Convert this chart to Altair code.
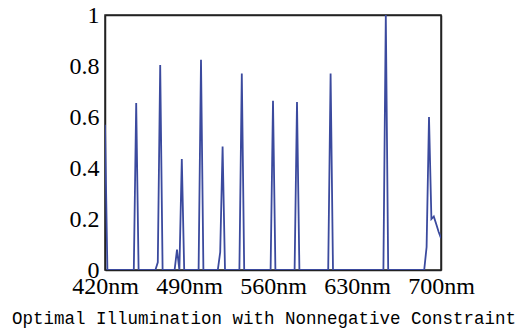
import altair as alt
import pandas as pd

# wavelength samples (nm) and relative illumination values
wavelengths = [420, 422, 444, 446, 448, 462, 464, 466, 468, 478, 480, 482, 484, 486,
               498, 500, 502, 514, 516, 518, 520, 532, 534, 536, 558, 560, 562,
               578, 580, 582, 606, 608, 610, 652, 654, 656, 686, 688, 690, 692,
               694, 696, 698, 700]
values = [0.57, 0.0, 0.0, 0.655, 0.0, 0.0, 0.03, 0.804, 0.0, 0.0, 0.08, 0.0, 0.435, 0.0,
          0.0, 0.824, 0.0, 0.0, 0.07, 0.484, 0.0, 0.0, 0.771, 0.0, 0.0, 0.664, 0.0,
          0.0, 0.659, 0.0, 0.0, 0.771, 0.0, 0.0, 1.0, 0.0, 0.0, 0.09, 0.60, 0.20,
          0.21, 0.18, 0.15, 0.125]

x_ticks = [420, 490, 560, 630, 700]
y_ticks = [0, 0.2, 0.4, 0.6, 0.8, 1.0]
title_text = "Optimal Illumination with Nonnegative Constraint"

df = pd.DataFrame({"wl": wavelengths, "v": values})

W, H = 336, 255
xs = alt.Scale(domain=[420, 700], nice=False, zero=False)
ys = alt.Scale(domain=[0, 1], nice=False)

common = dict(title=None, ticks=False, labelFlush=False, labelOverlap=False,
              domainWidth=1.5)

main = alt.Chart(df).mark_line(color="#3b4a9e", strokeWidth=1.8, clip=True).encode(
    x=alt.X("wl:Q", scale=xs,
            axis=alt.Axis(orient="bottom", values=x_ticks, labelExpr="datum.value + 'nm'",
                          labelFont="Liberation Serif", labelFontSize=24, labelColor="black",
                          labelPadding=4, domainColor="#222222", grid=False, **common)),
    y=alt.Y("v:Q", scale=ys,
            axis=alt.Axis(orient="left", values=y_ticks, format="~g",
                          labelFont="Liberation Serif", labelFontSize=24, labelColor="black",
                          labelPadding=6, domainColor="#222222", grid=False, **common)),
)

frame = alt.Chart(df).mark_line(opacity=0).encode(
    x=alt.X("wl:Q", scale=xs,
            axis=alt.Axis(orient="top", values=x_ticks, labels=False, grid=False,
                          domainColor="#222222", **common)),
    y=alt.Y("v:Q", scale=ys,
            axis=alt.Axis(orient="right", values=y_ticks, labels=False, grid=False,
                          domainColor="#222222", **common)),
)

chart = alt.layer(main, frame).resolve_axis(x="independent", y="independent").properties(
    width=W, height=H,
    title=alt.TitleParams(title_text, orient="bottom", font="Liberation Mono",
                          fontSize=17.5, fontWeight="normal", color="black",
                          anchor="middle", dx=-9, offset=12),
    autosize=alt.AutoSizeParams(type="none"),
    padding={"left": 105, "top": 15, "right": 81, "bottom": 63},
    background="white",
).configure_view(stroke="#222222", strokeWidth=1.5)

chart.save("out.html", embed_options={"renderer": "svg", "actions": False})
